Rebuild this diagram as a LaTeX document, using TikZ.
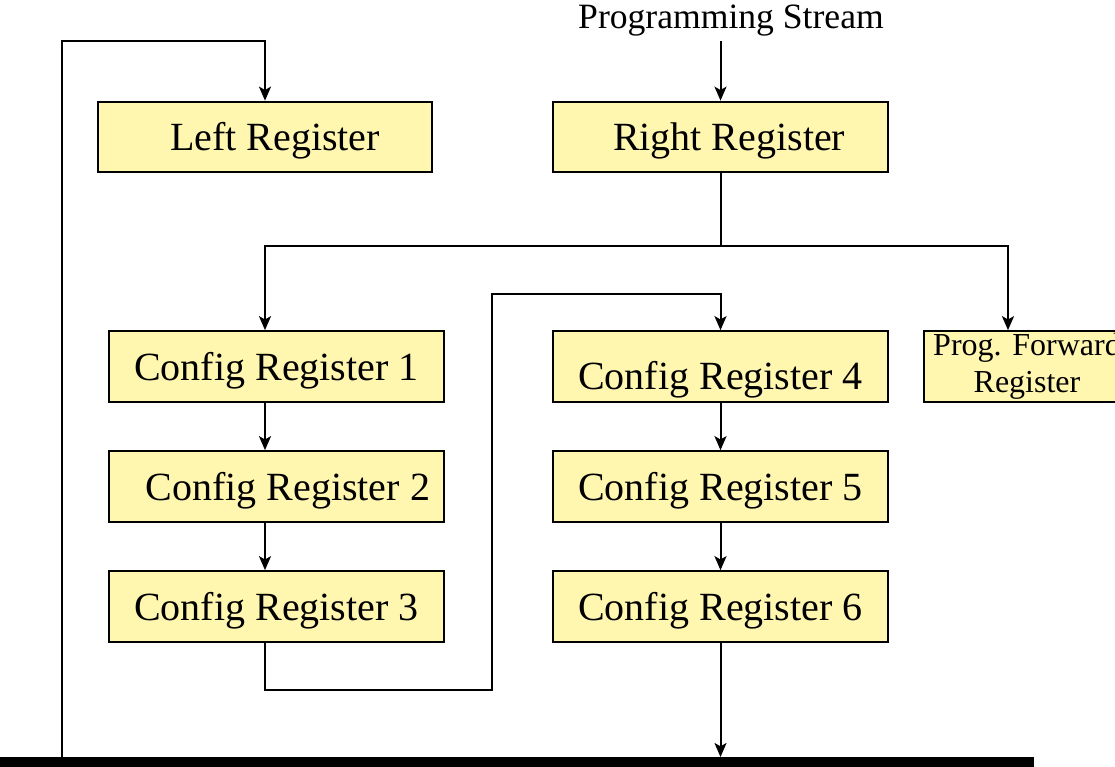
\documentclass[tikz,border=0pt]{standalone}
\usepackage{fontspec}
\setmainfont{Liberation Serif}
\usetikzlibrary{arrows.meta}
\definecolor{regfill}{RGB}{255,247,176}
% lower a label by #1 without changing the box it occupies
\newcommand{\dropby}[2]{\raisebox{#1}[\height][\depth]{#2}}
\begin{document}
\begin{tikzpicture}[x=0.75pt,y=-0.75pt,
  reg/.style={draw=black, line width=1.5pt, fill=regfill, minimum width=251pt,
    minimum height=53pt, inner sep=0pt, font=\fontsize{30}{36}\selectfont},
  wire/.style={line width=1.5pt},
  arr/.style={wire, -{Stealth[length=10.5pt,width=9pt,inset=2.5pt]}}]
\useasboundingbox (0,0) rectangle (1115,767);

% registers
\node[reg] (left)  at (265,137)   {\dropby{-2.6pt}{\hspace{15pt}Left Register}};
\node[reg] (right) at (720.5,137) {\dropby{-3pt}{\hspace{13pt}Right Register}};
\node[reg] (cr1) at (276.5,366.5) {\dropby{-3pt}{Config Register 1}};
\node[reg] (cr2) at (276.5,486.5) {\dropby{-3pt}{\hspace{17pt}Config Register 2}};
\node[reg] (cr3) at (276.5,606.5) {\dropby{-3pt}{Config Register 3}};
\node[reg] (cr4) at (720.5,366.5) {\dropby{-10pt}{Config Register 4}};
\node[reg] (cr5) at (720.5,486.5) {\dropby{-3pt}{Config Register 5}};
\node[reg] (cr6) at (720.5,606.5) {\dropby{-3pt}{Config Register 6}};
\node[reg, minimum width=154.5pt, align=center,
      font=\fontsize{24}{28}\selectfont] (pf) at (1027,366.5) {Prog. Forward\\Register};

% input label and output bus
\node[font=\fontsize{26.7}{32}\selectfont, inner sep=3pt, anchor=base] (ps) at (731,29) {Programming Stream};
\node[fill=black, minimum width=775pt, minimum height=7.5pt, inner sep=0pt,
      anchor=north west] (bus) at (0,757) {};

% routing points
\coordinate (colL) at (265,0);
\coordinate (colP) at (1008,0);
\coordinate (split) at (0,246);
\coordinate (lowT) at (492,690);
\coordinate (highT) at (492,294);
\coordinate (tap) at (62,757);
\coordinate (topy) at (0,41);

% connections
\draw[arr] (ps.south -| right.north) -- (right.north);
\draw[wire] (right.south) -- (right.south |- split);
\draw[arr] (right.south |- split) -| (cr1.north -| colL);
\draw[arr] (right.south |- split) -| (pf.north -| colP);
\draw[arr] (cr1.south -| colL) -- (cr2.north -| colL);
\draw[arr] (cr2.south -| colL) -- (cr3.north -| colL);
\draw[arr] (cr3.south -| colL) |- (lowT) -- (highT) -| (cr4.north);
\draw[arr] (cr4.south) -- (cr5.north);
\draw[arr] (cr5.south) -- (cr6.north);
\draw[arr] (cr6.south) -- (cr6.south |- bus.north);
\draw[arr] (tap) -- (tap |- topy) -| (left.north);
\end{tikzpicture}
\end{document}
